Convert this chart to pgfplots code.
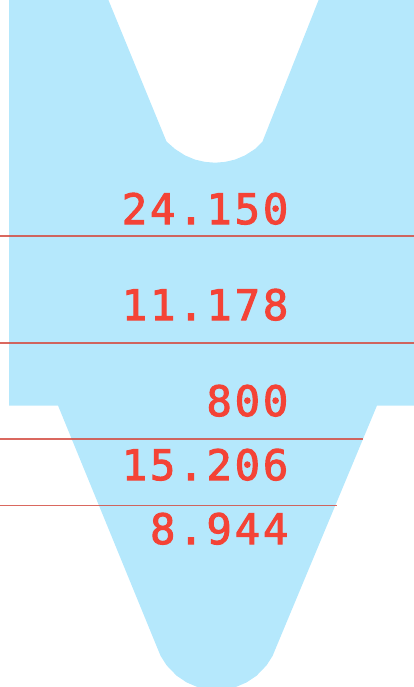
\documentclass[border=0pt]{standalone}
\usepackage{fontspec}
\usepackage{pgfplots}
\pgfplotsset{compat=1.18}
\newfontfamily\mono[FakeBold=2.5,LetterSpace=7]{DejaVu Sans Mono}
\definecolor{funnel}{HTML}{B5E8FC}
\definecolor{val}{HTML}{F44336}
\begin{document}
\begin{tikzpicture}
\begin{axis}[
  scale only axis, width=414pt, height=687pt,
  xmin=0, xmax=414, ymin=0, ymax=687, y dir=reverse,
  hide axis, clip=true]
\addplot[fill=funnel, draw=none] coordinates {
 (9,-1) (108,-1) (166.5,141.5) (175,149) (185,155.4) (195,159.6) (205,161.9) (215,162.7)
 (225,161.9) (235,159.6) (245,155.4) (255,149) (262.5,141.5) (319,-1) (415,-1) (415,405.5)
 (377,405.5) (276.6,646.2) (272.6,655.9) (266.6,665.3) (256.6,675.7) (246.6,682.4) (236.6,686.7) (226.6,689.2) (216.6,690)
 (206.6,689.2) (196.6,686.7) (186.6,682.4) (176.6,675.7) (166.6,665.3) (160.6,655.9) (156.6,646.2) (58,405.5) (9,405.5)} -- cycle;
\addplot[val!85!black!90, line width=1.05pt, opacity=0.85] coordinates {(-1,236) (415,236)};
\addplot[val!85!black!90, line width=1.05pt, opacity=0.85] coordinates {(-1,343) (415,343)};
\addplot[val!85!black!90, line width=1.05pt, opacity=0.85] coordinates {(-1,439) (363,439)};
\addplot[val!85!black!90, line width=1.05pt, opacity=0.85] coordinates {(-1,505.5) (337,505.5)};
\node[anchor=base east, inner sep=0pt, text=val] at (axis cs:288.5,224) {\fontsize{42}{42}\mono 24.150};
\node[anchor=base east, inner sep=0pt, text=val] at (axis cs:288.5,320) {\fontsize{42}{42}\mono 11.178};
\node[anchor=base east, inner sep=0pt, text=val] at (axis cs:288.5,416) {\fontsize{42}{42}\mono 800};
\node[anchor=base east, inner sep=0pt, text=val] at (axis cs:288.5,480) {\fontsize{42}{42}\mono 15.206};
\node[anchor=base east, inner sep=0pt, text=val] at (axis cs:288.5,544) {\fontsize{42}{42}\mono 8.944};
\end{axis}
\end{tikzpicture}
\end{document}
